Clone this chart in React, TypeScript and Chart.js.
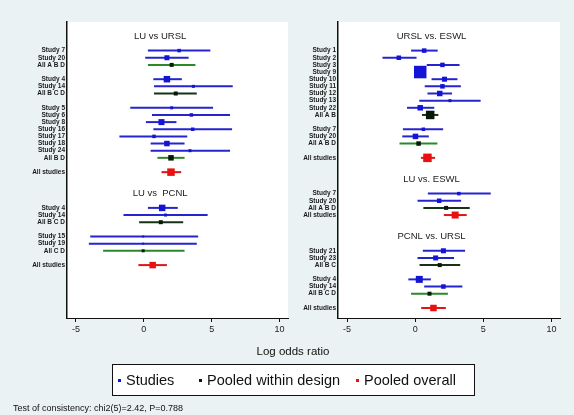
import React, { useEffect, useRef } from "react";
import { Chart, registerables } from "chart.js";
Chart.register(...registerables);

const FONT = "'Liberation Sans', Arial, sans-serif";

// ---- Left panel: LU vs URSL / LU vs PCNL ----
const leftLabels = ["Study 7", "Study 20", "All A B D", "Study 4", "Study 14", "All B C D", "Study 5", "Study 6", "Study 8", "Study 16", "Study 17", "Study 18", "Study 24", "All B D", "All studies", "Study 4", "Study 14", "All B C D", "Study 15", "Study 19", "All C D", "All studies"];
const leftRows = [0, 1, 2, 4, 5, 6, 8, 9, 10, 11, 12, 13, 14, 15, 17, 22, 23, 24, 26, 27, 28, 30];
const leftEst = [2.6, 1.7, 2.05, 1.7, 3.65, 2.35, 2.05, 3.5, 1.3, 3.6, 0.75, 1.7, 3.4, 2.0, 2.0, 1.35, 1.6, 1.25, -0.05, -0.05, -0.05, 0.65];
const leftLow = [0.3, 0.1, 0.3, 0.7, 0.75, 0.75, -1.0, 0.6, 0.15, 0.7, -1.8, 0.5, 0.5, 1.0, 1.3, 0.3, -1.5, -0.35, -3.95, -4.05, -3.0, -0.4];
const leftHigh = [4.9, 3.3, 3.8, 2.8, 6.55, 3.9, 5.1, 6.35, 2.4, 6.5, 3.2, 3.0, 6.35, 3.0, 2.75, 2.5, 4.7, 2.9, 4.0, 3.9, 3.0, 1.7];
const leftKind = ["S", "S", "G", "S", "S", "D", "S", "S", "S", "S", "S", "S", "S", "G", "O", "S", "S", "D", "S", "S", "G", "O"];
const leftWeight = [3.5, 5, 4, 6.5, 3, 4, 3, 3.5, 6, 3.5, 3.5, 5.5, 3, 5.5, 7.5, 6.5, 3, 4, 2, 2, 3, 6.5];
const leftTitles = ["LU vs URSL", "LU vs  PCNL"];
const leftTitleRows = [-2, 20];

// ---- Right panel: URSL vs ESWL / LU vs ESWL / PCNL vs URSL ----
const rightLabels = ["Study 1", "Study 2", "Study 3", "Study 9", "Study 10", "Study 11", "Study 12", "Study 13", "Study 22", "All A B", "Study 7", "Study 20", "All A B D", "All studies", "Study 7", "Study 20", "All A B D", "All studies", "Study 21", "Study 23", "All B C", "Study 4", "Study 14", "All B C D", "All studies"];
const rightRows = [0, 1, 2, 3, 4, 5, 6, 7, 8, 9, 11, 12, 13, 15, 20, 21, 22, 23, 28, 29, 30, 32, 33, 34, 36];
const rightEst = [0.66, -1.2, 2.0, 0.37, 2.15, 2.0, 1.8, 2.55, 0.37, 1.1, 0.6, 0.02, 0.25, 0.9, 3.2, 1.76, 2.27, 2.93, 2.07, 1.5, 1.8, 0.3, 2.07, 1.05, 1.34];
const rightLow = [-0.3, -2.4, 0.85, 0.1, 1.2, 0.7, 0.9, 0.3, -0.6, 0.5, -0.9, -0.95, -1.15, 0.42, 0.93, 0.17, 0.6, 2.1, 0.56, 0.17, 0.32, -0.5, 0.66, -0.3, 0.44];
const rightHigh = [1.65, 0.1, 3.25, 0.65, 3.1, 3.35, 2.7, 4.8, 1.4, 1.7, 2.05, 1.0, 1.63, 1.46, 5.54, 3.37, 4.0, 3.78, 3.66, 2.85, 3.3, 1.15, 3.46, 2.4, 2.25];
const rightKind = ["S", "S", "S", "S", "S", "S", "S", "S", "S", "D", "S", "S", "G", "O", "S", "S", "D", "O", "S", "S", "D", "S", "S", "G", "O"];
const rightWeight = [4.5, 4.5, 4.5, 12.5, 5, 4.5, 5.5, 3, 5.5, 8.5, 3.5, 5.5, 4.5, 8.5, 3.5, 4.5, 4, 7, 5, 5, 4, 7, 4.5, 4, 6.5];
const rightTitles = ["URSL vs. ESWL", "LU vs. ESWL", "PCNL vs. URSL"];
const rightTitleRows = [-2, 18, 26];

const xTicks = [-5, 0, 5, 10];
const xMin = -5.66;
const xMax = 10.62;
const rowMin = -4;
const rowMax = 37.4;
const titleX = 1.2;

const lineColor = (k: string) =>
  k === "S" ? "#2525d0" : k === "G" ? "#2a8a2a" : k === "D" ? "#173217" : "#e01515";
const markerColor = (k: string) =>
  k === "S" ? "#1414d4" : k === "O" ? "#e81010" : "#061806";

type PanelProps = {
  labels: string[]; rows: number[]; est: number[]; low: number[]; high: number[];
  kind: string[]; weight: number[]; titles: string[]; titleRows: number[];
  left: number; width: number; yWidth: number; padRight: number;
};

function Panel(p: PanelProps) {
  const ref = useRef<HTMLCanvasElement>(null);
  useEffect(() => {
    if (!ref.current) return;
    const labelMap = new Map<number, string>();
    p.rows.forEach((r, i) => labelMap.set(r, p.labels[i]));
    const datasets: any[] = [];
    datasets.push({
      data: p.rows.map((r, i) => ({ x: p.est[i], y: r })),
      pointStyle: "rect",
      pointRadius: p.weight.map((s) => s / Math.SQRT2),
      backgroundColor: p.kind.map(markerColor),
      borderWidth: 0,
      order: 0,
    });
    p.rows.forEach((r, i) => {
      datasets.push({
        showLine: true,
        data: [{ x: p.low[i], y: r }, { x: p.high[i], y: r }],
        borderColor: lineColor(p.kind[i]),
        borderWidth: 2,
        pointRadius: 0,
        order: 1,
      });
    });
    const bgPlugin = {
      id: "plotbg",
      beforeDraw(chart: any) {
        const { ctx, chartArea: a } = chart;
        ctx.save();
        ctx.fillStyle = "#ffffff";
        ctx.fillRect(a.left, a.top, a.right - a.left, a.bottom - a.top);
        ctx.restore();
      },
    };
    const titlePlugin = {
      id: "titles",
      afterDatasetsDraw(chart: any) {
        const { ctx } = chart;
        const xs = chart.scales.x, ys = chart.scales.y;
        ctx.save();
        ctx.font = `9.5px ${FONT}`;
        ctx.fillStyle = "#222";
        ctx.textAlign = "center";
        ctx.textBaseline = "middle";
        p.titles.forEach((t, i) => {
          ctx.fillText(t, xs.getPixelForValue(titleX), ys.getPixelForValue(p.titleRows[i]));
        });
        ctx.restore();
      },
    };
    const chart = new Chart(ref.current, {
      type: "scatter",
      data: { datasets },
      options: {
        responsive: false,
        animation: false,
        events: [],
        layout: { padding: { left: 0, top: 22, right: p.padRight, bottom: 0 } },
        plugins: { legend: { display: false }, tooltip: { enabled: false } },
        scales: {
          x: {
            type: "linear",
            min: xMin,
            max: xMax,
            afterBuildTicks: (s: any) => { s.ticks = xTicks.map((v) => ({ value: v })); },
            afterFit: (s: any) => { s.height = 27; },
            ticks: { font: { size: 9, family: FONT }, color: "#222", padding: 2, autoSkip: false, maxRotation: 0 },
            grid: { drawOnChartArea: false, drawTicks: true, tickLength: 4, color: "#111", lineWidth: 1 },
            border: { display: true, color: "#111", width: 1 },
          },
          y: {
            type: "linear",
            reverse: true,
            min: rowMin,
            max: rowMax,
            afterBuildTicks: (s: any) => { s.ticks = p.rows.map((v) => ({ value: v })); },
            afterFit: (s: any) => { s.width = p.yWidth; },
            ticks: {
              callback: (v: any) => labelMap.get(Number(v)) ?? "",
              font: { size: 6.5, family: FONT, weight: "bold" },
              color: "#1a1a1a",
              padding: 2,
              autoSkip: false,
            },
            grid: { display: false, drawTicks: false },
            border: { display: true, color: "#111", width: 1.5 },
          },
        },
      },
      plugins: [bgPlugin, titlePlugin],
    } as any);
    return () => chart.destroy();
  }, []);
  return (
    <canvas
      ref={ref}
      width={p.width}
      height={345}
      style={{ position: "absolute", left: p.left, top: 0, width: p.width, height: 345 }}
    />
  );
}

const legendItems = ["Studies", "Pooled within design", "Pooled overall"];
const legendColors = ["#1414d4", "#061806", "#e81010"];

export default function App() {
  return (
    <div style={{ position: "absolute", left: 0, top: 0, width: 574, height: 415, background: "#EBF2F4", overflow: "hidden", fontFamily: FONT }}>
      <Panel labels={leftLabels} rows={leftRows} est={leftEst} low={leftLow} high={leftHigh} kind={leftKind}
        weight={leftWeight} titles={leftTitles} titleRows={leftTitleRows} left={0} width={300} yWidth={67} padRight={12} />
      <Panel labels={rightLabels} rows={rightRows} est={rightEst} low={rightLow} high={rightHigh} kind={rightKind}
        weight={rightWeight} titles={rightTitles} titleRows={rightTitleRows} left={290} width={284} yWidth={48} padRight={14} />
      <div style={{ position: "absolute", left: 193, width: 200, top: 344, textAlign: "center", fontSize: 11.5, lineHeight: "14px", color: "#111" }}>
        Log odds ratio
      </div>
      <div style={{ position: "absolute", left: 112, top: 364, width: 363, height: 32, boxSizing: "border-box", border: "1px solid #111", background: "#fff" }}>
        {legendItems.map((t, i) => (
          <div key={t} style={{ position: "absolute", left: [5, 86, 243][i], top: 0, height: 30, display: "flex", alignItems: "center", fontSize: 14.5, color: "#111", whiteSpace: "nowrap" }}>
            <span style={{ display: "inline-block", width: 3, height: 3, background: legendColors[i], marginRight: 5 }} />
            {t}
          </div>
        ))}
      </div>
      <div style={{ position: "absolute", left: 13, top: 403, fontSize: 9, lineHeight: "11px", color: "#111", whiteSpace: "nowrap" }}>
        Test of consistency: chi2(5)=2.42, P=0.788
      </div>
    </div>
  );
}
